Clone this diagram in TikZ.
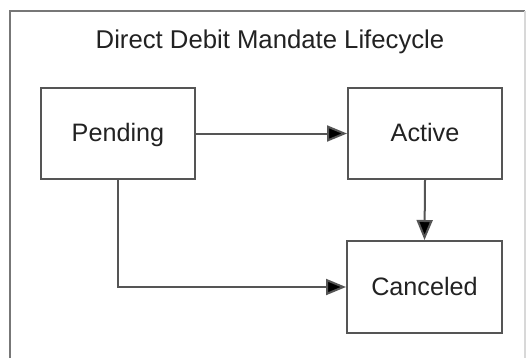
\documentclass[tikz,border=0pt]{standalone}
\usepackage{fontspec}
\setmainfont{Liberation Sans}
\usetikzlibrary{arrows.meta}
\definecolor{boxline}{HTML}{555555}
\definecolor{frameline}{HTML}{777777}
\definecolor{framelight}{HTML}{D8D8D8}
\definecolor{txt}{HTML}{222222}
\tikzset{
  statebox/.style={draw=boxline, line width=2bp, fill=white, minimum width=154bp, minimum height=91bp,
    inner sep=0pt, font=\fontsize{25.3}{30}\selectfont, text=txt, text height=16bp, text depth=0pt},
  conn/.style={draw=boxline, line width=2bp, -{Triangle[length=20bp,width=16bp,fill=black]}},
}
\begin{document}
\begin{tikzpicture}[x=1bp,y=-1bp]
\useasboundingbox (0,0) rectangle (531,358);
\fill[white] (0,0) rectangle (531,358);
\draw[frameline, line width=2.2bp] (10,358) -- (10,11) -- (525,11);
\draw[framelight, line width=1.2bp] (525,11) -- (525,358);
\node[anchor=base, font=\fontsize{25.8}{30}\selectfont, text=txt, inner sep=0pt] (title) at (270,48) {Direct Debit Mandate Lifecycle};
\node[statebox] (pending) at (118,133.5) {Pending};
\node[statebox] (active) at (425,133.5) {Active};
\node[statebox, minimum width=155bp, minimum height=92bp] (canceled) at (424.5,287) {Canceled};
\draw[conn] (pending.east) -- (active.west);
\draw[conn] (active.south) -- (canceled.north);
\draw[conn] (pending.south) |- (canceled.west);
\end{tikzpicture}
\end{document}
